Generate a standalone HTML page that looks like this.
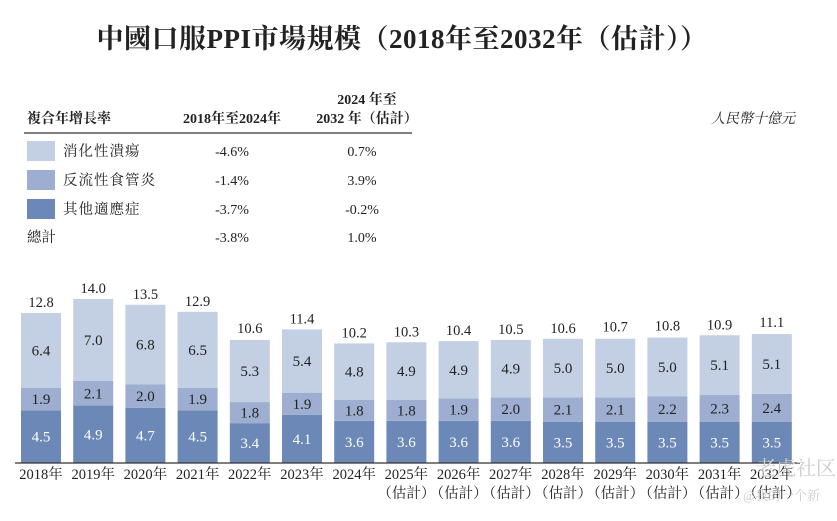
<!DOCTYPE html>
<html><head><meta charset="utf-8"><style>
body{margin:0;background:#fff;width:837px;height:516px;overflow:hidden}
svg text{font-family:"Liberation Serif","Noto Serif CJK SC","Noto Sans CJK TC",serif;fill:#222}
</style></head><body>
<svg width="837" height="516">
<text x="402" y="48" text-anchor="middle" font-size="27" font-weight="bold" letter-spacing="0.5">中國口服PPI市場規模（2018年至2032年（估計））</text>
<g>
<text x="27" y="123" font-size="14" font-weight="bold">複合年增長率</text>
<text x="232" y="123" font-size="14" font-weight="bold" text-anchor="middle">2018年至2024年</text>
<text x="367" y="104" font-size="14" font-weight="bold" text-anchor="middle">2024 年至</text>
<text x="367" y="123" font-size="14" font-weight="bold" text-anchor="middle">2032 年（估計）</text>
<line x1="24" y1="133" x2="412" y2="133" stroke="#333" stroke-width="1.2"/>
<text x="795" y="123" font-size="14" font-style="italic" text-anchor="end">人民幣十億元</text>
</g>
<g id="table"></g>
<g id="chart"></g>
<text x="836" y="475" font-size="20" text-anchor="end" style="fill:#ccc">老虎社区</text>
<text x="820" y="500" font-size="13" text-anchor="end" style="fill:#ccc">@我的一个新</text>
</svg>
<script>
const years=["2018年","2019年","2020年","2021年","2022年","2023年","2024年","2025年","2026年","2027年","2028年","2029年","2030年","2031年","2032年"];
const other=[4.5,4.9,4.7,4.5,3.4,4.1,3.6,3.6,3.6,3.6,3.5,3.5,3.5,3.5,3.5];
const reflux=[1.9,2.1,2.0,1.9,1.8,1.9,1.8,1.8,1.9,2.0,2.1,2.1,2.2,2.3,2.4];
const ulcer=[6.4,7.0,6.8,6.5,5.3,5.4,4.8,4.9,4.9,4.9,5.0,5.0,5.0,5.1,5.1];
const totals=[12.8,14.0,13.5,12.9,10.6,11.4,10.2,10.3,10.4,10.5,10.6,10.7,10.8,10.9,11.1];
const seriesNames=["消化性潰瘍","反流性食管炎","其他適應症"];
const cagr1=["-4.6%","-1.4%","-3.7%","-3.8%"];
const cagr2=["0.7%","3.9%","-0.2%","1.0%"];
const colors=["#c3cfe3","#9daed0","#6b88b6"];
const NS="http://www.w3.org/2000/svg";
function mk(tag,attrs,parent,txt){const e=document.createElementNS(NS,tag);for(const k in attrs)e.setAttribute(k,attrs[k]);if(txt!==undefined)e.textContent=txt;parent.appendChild(e);return e;}
const tbl=document.getElementById('table');
const rowY=[155,184,213,241];
for(let i=0;i<4;i++){
  if(i<3){
    const s=mk('rect',{x:27,y:rowY[i]-14,width:28,height:20,fill:colors[i]},tbl);
    
    
    const t=mk('text',{x:63,y:rowY[i]+1,'font-size':14.5,'letter-spacing':'1'},tbl,seriesNames[i]);
    
    
  } else {
    const t=mk('text',{x:27,y:rowY[i]+1,'font-size':14.5},tbl,'總計');
    
    
  }
  const a=mk('text',{x:232,y:rowY[i]+1,'font-size':14,'text-anchor':'middle'},tbl,cagr1[i]);
  
  
  const b=mk('text',{x:362,y:rowY[i]+1,'font-size':14,'text-anchor':'middle'},tbl,cagr2[i]);
  
  
}
const ch=document.getElementById('chart');
const base=463, k=11.72, x0=41, step=52.2, bw=40;
const xs=i=>x0+i*step;
const ys=v=>v*k;
years.forEach((yr,i)=>{
  const cx=xs(i);let y=base;
  const segs=[other[i],reflux[i],ulcer[i]];
  const cols=[colors[2],colors[1],colors[0]];
  segs.forEach((v,j)=>{
    const h=ys(v);
    const r=mk('rect',{x:cx-bw/2,y:y-h,width:bw,height:h,fill:cols[j]},ch);
    
    
    const t=mk('text',{x:cx,y:y-h/2+5,'font-size':15,'text-anchor':'middle'},ch,v.toFixed(1));
    if(j===0)t.setAttribute('style','fill:#fff');
    
    
    y-=h;
  });
  const tt=mk('text',{x:cx,y:base-ys(totals[i])-6,'font-size':14.5,'text-anchor':'middle'},ch,totals[i].toFixed(1));
  
  
  const yl=mk('text',{x:cx,y:479,'font-size':14.5,'text-anchor':'middle'},ch,yr);
  
  
  if(i>=7){
    const e=mk('text',{x:cx,y:498,'font-size':14.5,'text-anchor':'middle'},ch,'（估計）');
    
    
  }
});
const ax=mk('line',{x1:15,y1:base,x2:800,y2:base,stroke:'#333','stroke-width':1.2},ch);


</script>
</body></html>
